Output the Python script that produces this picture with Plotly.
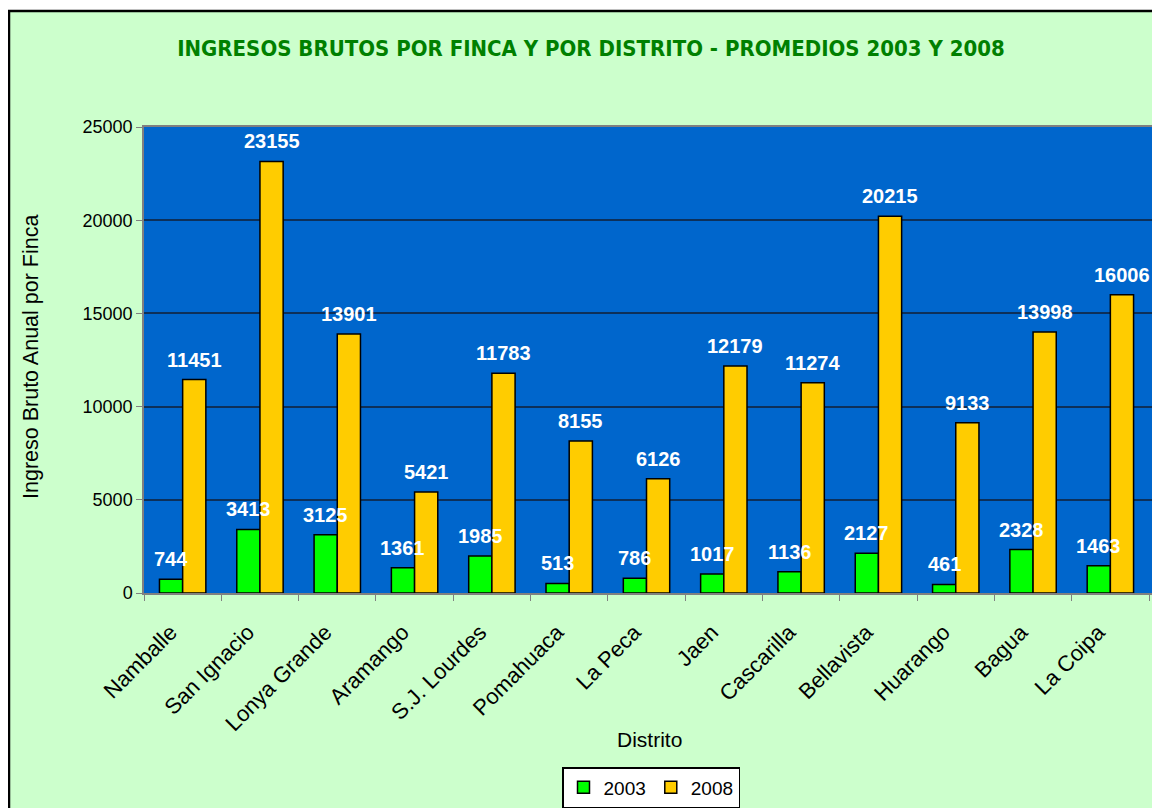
import plotly.graph_objects as go

distritos = ["Namballe", "San Ignacio", "Lonya Grande", "Aramango", "S.J. Lourdes",
             "Pomahuaca", "La Peca", "Jaen", "Cascarilla", "Bellavista",
             "Huarango", "Bagua", "La Coipa"]
v2003 = [744, 3413, 3125, 1361, 1985, 513, 786, 1017, 1136, 2127, 461, 2328, 1463]
v2008 = [11451, 23155, 13901, 5421, 11783, 8155, 6126, 12179, 11274, 20215, 9133, 13998, 16006]
series_names = ["2003", "2008"]
y_ticks = [0, 5000, 10000, 15000, 20000, 25000]
y_ticktext = ["0", "5000", "10000", "15000", "20000", "25000"]

W, H = 1160, 808
L, R, T, B = 136, 16, 119, 223
plot_w = W - L - R
plot_h = H - T - B

def px_x(p):
    return (p - L) / plot_w

def px_y(p):
    return (H - B - p) / plot_h

COND = "DejaVu Sans Condensed, sans-serif"
ARIAL = "Liberation Sans, Arial, sans-serif"

fig = go.Figure()
fig.add_trace(go.Bar(name=series_names[0], x=distritos, y=v2003,
                     marker=dict(color="#00FF00", line=dict(color="black", width=1.5))))
fig.add_trace(go.Bar(name=series_names[1], x=distritos, y=v2008,
                     marker=dict(color="#FFCC00", line=dict(color="black", width=1.5))))

bargap = 0.40
bar_px = plot_w / len(distritos) * (1 - bargap) / 2
annotations = []
for vals, sh in ((v2003, -bar_px / 2), (v2008, bar_px / 2)):
    for d, v in zip(distritos, vals):
        annotations.append(dict(x=d, y=v, xref="x", yref="y", text=str(v),
                                showarrow=False, xshift=sh, yshift=20,
                                yanchor="middle",
                                font=dict(family=ARIAL, size=20, color="white", weight="bold")))

annotations.append(dict(text="Ingreso Bruto Anual por Finca", xref="paper", yref="paper",
                        x=px_x(23), y=px_y(349), xanchor="center", yanchor="middle",
                        textangle=-90, showarrow=False,
                        font=dict(family=ARIAL, size=21.5, color="black")))
annotations.append(dict(text="Distrito", xref="paper", yref="paper",
                        x=px_x(641), y=px_y(731), xanchor="center", yanchor="middle",
                        showarrow=False,
                        font=dict(family=ARIAL, size=21, color="black")))

shapes = [
    dict(type="rect", xref="paper", yref="paper", x0=px_x(-5), x1=px_x(W + 5), y0=px_y(2), y1=px_y(-5),
         fillcolor="white", line=dict(width=0), layer="above"),
    dict(type="line", xref="paper", yref="paper", x0=px_x(1), x1=px_x(1), y0=px_y(2), y1=px_y(H + 5),
         line=dict(color="black", width=2.5)),
    dict(type="line", xref="paper", yref="paper", x0=px_x(0), x1=px_x(W + 5), y0=px_y(3), y1=px_y(3),
         line=dict(color="black", width=2.5)),
]

fig.update_layout(
    width=W, height=H,
    margin=dict(l=L, r=R, t=T, b=B, autoexpand=False),
    paper_bgcolor="#CCFFCC",
    plot_bgcolor="#0066CC",
    barmode="group", bargap=bargap, bargroupgap=0,
    title=dict(text="INGRESOS BRUTOS POR FINCA Y POR DISTRITO - PROMEDIOS 2003 Y 2008",
               x=583 / W, xanchor="center", y=1 - 40 / H, yanchor="middle",
               font=dict(family=COND, size=22, color="#008000", weight="bold")),
    xaxis=dict(showline=True, linecolor="#808080", linewidth=1.5, mirror=True,
               ticks="outside", tickson="boundaries", ticklen=6, tickcolor="#808080",
               tickangle=-45, tickfont=dict(family=ARIAL, size=22, color="black"),
               ticklabelstandoff=16, ticklabelshift=-12,
               showgrid=False),
    yaxis=dict(range=[0, 25000], tickvals=y_ticks, ticktext=y_ticktext, showline=True,
               linecolor="#808080", linewidth=1.5, mirror=True, ticks="outside", ticklen=6,
               tickcolor="#808080", tickfont=dict(family=ARIAL, size=18, color="black"),
               showgrid=True, gridcolor="#0d3059", gridwidth=1.5, zeroline=False),
    legend=dict(orientation="h", x=px_x(643), xanchor="center", y=px_y(759), yanchor="top",
                bgcolor="white", bordercolor="black", borderwidth=1.5,
                font=dict(family=ARIAL, size=19, color="black"),
                itemwidth=30, traceorder="normal"),
    showlegend=True,
    annotations=annotations,
    shapes=shapes,
)

fig.write_html("out.html")
